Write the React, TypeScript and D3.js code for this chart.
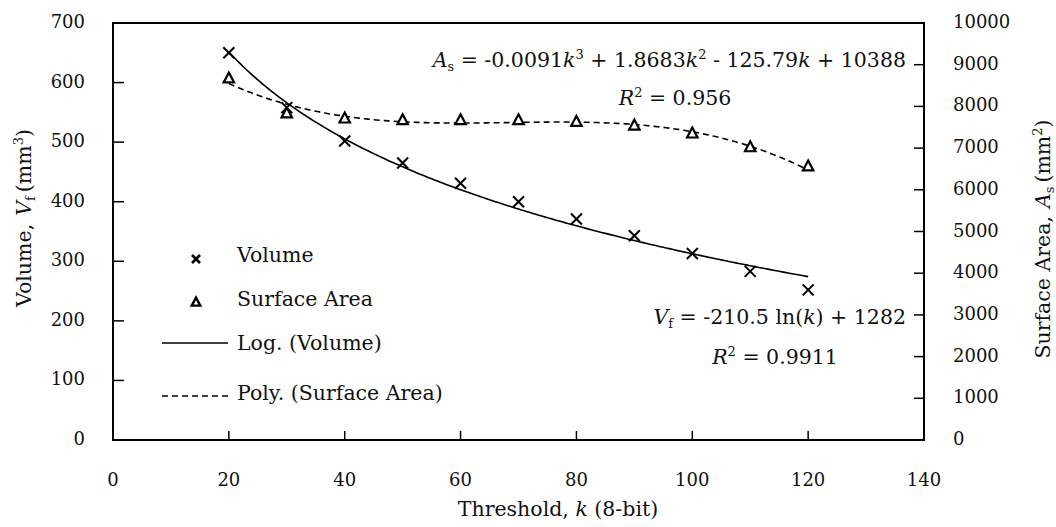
import * as d3 from 'd3';
import React from 'react';

// threshold values and measured points
const thresholds = [20, 30, 40, 50, 60, 70, 80, 90, 100, 110, 120];
const volume = [650, 558, 502, 465, 431, 400, 371, 343, 313, 283, 252];
const surfaceArea = [8680, 7840, 7720, 7680, 7680, 7680, 7640, 7550, 7360, 7030, 6570];

// trendline coefficients as printed on the chart
const logFit = [-210.5, 1282]; // a*ln(k) + b
const polyFit = [-0.0091, 1.8683, -125.79, 10388]; // k^3, k^2, k, 1

const xTicks = [0, 20, 40, 60, 80, 100, 120, 140];
const volumeTicks = [0, 100, 200, 300, 400, 500, 600, 700];
const areaTicks = [0, 1000, 2000, 3000, 4000, 5000, 6000, 7000, 8000, 9000, 10000];

const W = 1056;
const H = 527;
const FONT = 'DejaVu Serif';
const TICK_FS = 18;
const FS = 20.5;
const SUB = 13;

const Cross = ({ x, y, r = 5.5, sw = 2 }: { x: number; y: number; r?: number; sw?: number }) => (
  <g stroke="#000" strokeWidth={sw}>
    <line x1={x - r} y1={y - r} x2={x + r} y2={y + r} />
    <line x1={x - r} y1={y + r} x2={x + r} y2={y - r} />
  </g>
);

const Tri = ({ x, y, r = 5.5, sw = 2.2 }: { x: number; y: number; r?: number; sw?: number }) => (
  <path
    d={`M${x},${y - r}L${x + r * 0.95},${y + r * 0.8}L${x - r * 0.95},${y + r * 0.8}Z`}
    fill="#fff"
    stroke="#000"
    strokeWidth={sw}
  />
);

const App: React.FC = () => {
  const x = d3.scaleLinear().domain([0, 140]).range([113, 924]);
  const yL = d3.scaleLinear().domain([0, 700]).range([440, 23]);
  const yR = d3.scaleLinear().domain([0, 10000]).range([440, 23]);

  const fitK = d3.range(20, 120.01, 0.5);
  const logLine = d3
    .line<number>()
    .x(k => x(k))
    .y(k => yL(logFit[0] * Math.log(k) + logFit[1]));
  const polyLine = d3
    .line<number>()
    .x(k => x(k))
    .y(k => yR(polyFit[0] * k ** 3 + polyFit[1] * k ** 2 + polyFit[2] * k + polyFit[3]));

  const tick = { fontFamily: FONT, fontSize: TICK_FS, fill: '#111' };
  const txt = { fontFamily: FONT, fontSize: FS, fill: '#111' };

  return (
    <svg width={W} height={H} style={{ position: 'absolute', left: 0, top: 0, background: '#fff' }}>
      {/* fit lines */}
      <path d={logLine(fitK) ?? ''} fill="none" stroke="#000" strokeWidth={1.6} />
      <path d={polyLine(fitK) ?? ''} fill="none" stroke="#000" strokeWidth={1.6} strokeDasharray="6,4" />

      {/* points */}
      {thresholds.map((k, i) => (
        <Tri key={'t' + k} x={x(k)} y={yR(surfaceArea[i])} />
      ))}
      {thresholds.map((k, i) => (
        <Cross key={'c' + k} x={x(k)} y={yL(volume[i])} />
      ))}

      {/* frame */}
      <rect x={113} y={23} width={924 - 113} height={440 - 23} fill="none" stroke="#000" strokeWidth={2} />

      {/* x axis ticks */}
      {xTicks.map(t => (
        <g key={'x' + t}>
          {t > 0 && t < 140 && <line x1={x(t)} x2={x(t)} y1={440} y2={431} stroke="#000" strokeWidth={1.5} />}
          <text x={x(t)} y={481} textAnchor="middle" dominantBaseline="middle" {...tick}>
            {t}
          </text>
        </g>
      ))}
      {/* left axis */}
      {volumeTicks.map(t => (
        <g key={'l' + t}>
          {t > 0 && t < 700 && <line x1={113} x2={124} y1={yL(t)} y2={yL(t)} stroke="#000" strokeWidth={1.5} />}
          <text x={85} y={yL(t)} textAnchor="end" dominantBaseline="middle" {...tick}>
            {t}
          </text>
        </g>
      ))}
      {/* right axis */}
      {areaTicks.map(t => (
        <g key={'r' + t}>
          {t > 0 && t < 10000 && <line x1={914} x2={924} y1={yR(t)} y2={yR(t)} stroke="#000" strokeWidth={1.5} />}
          <text x={953} y={yR(t)} dominantBaseline="middle" {...tick}>
            {t}
          </text>
        </g>
      ))}

      {/* axis titles */}
      <text x={558} y={516} textAnchor="middle" {...txt}>
        Threshold, <tspan fontStyle="italic">k</tspan> (8-bit)
      </text>
      <text transform="translate(31,218) rotate(-90)" textAnchor="middle" {...txt}>
        Volume,
        <tspan dx={8} fontStyle="italic">V</tspan>
        <tspan fontSize={SUB} dy={4}>f</tspan>
        <tspan dy={-4} dx={4}>(mm</tspan>
        <tspan fontSize={SUB} dy={-8}>3</tspan>
        <tspan dy={8}>)</tspan>
      </text>
      <text transform="translate(1050,239) rotate(-90)" textAnchor="middle" {...txt}>
        Surface Area,
        <tspan dx={8} fontStyle="italic">A</tspan>
        <tspan fontSize={SUB} dy={4}>s</tspan>
        <tspan dy={-4} dx={4}>(mm</tspan>
        <tspan fontSize={SUB} dy={-8}>2</tspan>
        <tspan dy={8}>)</tspan>
      </text>

      {/* equations */}
      <text x={906} y={67} textAnchor="end" {...txt}>
        <tspan fontStyle="italic">A</tspan>
        <tspan fontSize={SUB} dy={4}>s</tspan>
        <tspan dy={-4}> = -0.0091</tspan>
        <tspan fontStyle="italic">k</tspan>
        <tspan fontSize={SUB} dy={-8}>3</tspan>
        <tspan dy={8}> + 1.8683</tspan>
        <tspan fontStyle="italic">k</tspan>
        <tspan fontSize={SUB} dy={-8}>2</tspan>
        <tspan dy={8}> - 125.79</tspan>
        <tspan fontStyle="italic">k</tspan>
        <tspan> + 10388</tspan>
      </text>
      <text x={675} y={105} textAnchor="middle" {...txt}>
        <tspan fontStyle="italic">R</tspan>
        <tspan fontSize={SUB} dy={-8}>2</tspan>
        <tspan dy={8}> = 0.956</tspan>
      </text>
      <text x={906} y={324} textAnchor="end" {...txt}>
        <tspan fontStyle="italic">V</tspan>
        <tspan fontSize={SUB} dy={4}>f</tspan>
        <tspan dy={-4}> = -210.5 ln(</tspan>
        <tspan fontStyle="italic">k</tspan>
        <tspan>) + 1282</tspan>
      </text>
      <text x={775} y={364} textAnchor="middle" {...txt}>
        <tspan fontStyle="italic">R</tspan>
        <tspan fontSize={SUB} dy={-8}>2</tspan>
        <tspan dy={8}> = 0.9911</tspan>
      </text>

      {/* legend */}
      <Cross x={196} y={259} r={4} sw={2.6} />
      <text x={237} y={256} dominantBaseline="middle" {...txt}>Volume</text>
      <Tri x={196} y={302} r={4.5} sw={2.4} />
      <text x={237} y={300} dominantBaseline="middle" {...txt}>Surface Area</text>
      <line x1={162} x2={228} y1={343} y2={343} stroke="#000" strokeWidth={1.6} />
      <text x={237} y={344} dominantBaseline="middle" {...txt}>Log. (Volume)</text>
      <line x1={162} x2={228} y1={396} y2={396} stroke="#000" strokeWidth={1.6} strokeDasharray="6,4" />
      <text x={237} y={394} dominantBaseline="middle" {...txt}>Poly. (Surface Area)</text>
    </svg>
  );
};

export default App;
